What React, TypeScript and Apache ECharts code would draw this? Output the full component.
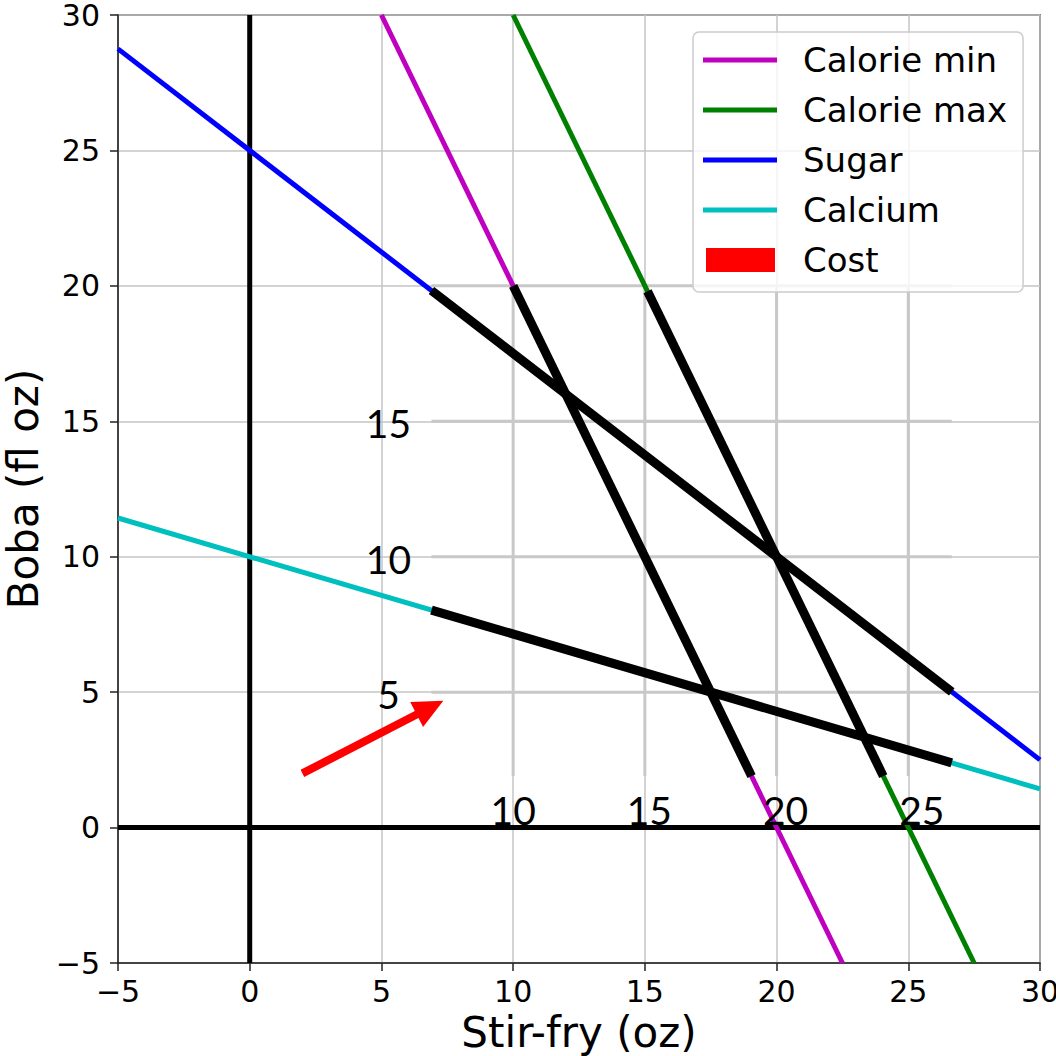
import React, { useEffect, useRef } from 'react';
import * as echarts from 'echarts';

// ---------- data ----------
const xAxisRange = [-5, 30];
const yAxisRange = [-5, 30];
const tickStep = 5;

const legendNames = ['Calorie min', 'Calorie max', 'Sugar', 'Calcium', 'Cost'];

// constraint lines (endpoints)
const calorieMinLine = [[5, 30], [22.5, -5]];
const calorieMaxLine = [[10, 30], [27.5, -5]];
const sugarLine = [[-5, 28.75], [30, 2.5]];
const calciumLine = [[-5, 11.43], [30, 1.43]];

// highlighted (black) parts of the constraints
const sugarEdge = [[6.9, 19.83], [26.65, 5.01]];
const calorieMinEdge = [[10, 20], [19.05, 1.9]];
const calorieMaxEdge = [[15.1, 19.8], [24.05, 1.9]];
const calciumEdge = [[6.9, 8.03], [26.65, 2.39]];

// cost direction arrow: tail x, tail y, tip x, tip y
const costArrow = [[2, 2, 7.35, 4.68]];

// thick zero axes
const zeroAxisVertical = [[0, -5], [0, 30]];
const zeroAxisHorizontal = [[-5, 0], [30, 0]];

// inner (overlay) grid
const innerBoxX = [6.9, 26.65];
const innerBoxY = [1.9, 20];
const innerGridX = [10, 15, 20, 25];
const innerGridY = [5, 10, 15, 20];
const innerXTickLabels = ['10', '15', '20', '25'];
const innerYTickValues = [15, 10, 5];
const innerYTickLabels = ['15', '10', '5'];

// ---------- styles ----------
const COLORS = {
  calMin: '#bf00bf',
  calMax: '#008000',
  sugar: '#0000ff',
  calcium: '#00bfbf',
  cost: '#ff0000',
};

const lineIcon = 'path://M0,0 M74,24 M0,9.5 L74,9.5 L74,14.5 L0,14.5 Z';
const rectIcon = 'path://M0,0 M74,24 M3,0 L72,0 L72,24 L3,24 Z';

function lineSeries(name: string, data: number[][], color: string, width: number, z = 2) {
  return {
    type: 'line',
    name,
    data,
    showSymbol: false,
    symbol: 'none',
    silent: true,
    z,
    itemStyle: { color },
    lineStyle: { color, width, cap: 'butt' },
  };
}

function segmentRender(stroke: string, width: number) {
  return (params: any, api: any) => {
    const a = api.coord([api.value(0), api.value(1)]);
    const b = api.coord([api.value(2), api.value(3)]);
    return {
      type: 'line',
      shape: { x1: a[0], y1: a[1], x2: b[0], y2: b[1] },
      style: { stroke, lineWidth: width },
    };
  };
}

function textStyle(text: string) {
  return {
    text,
    fill: '#000',
    font: '39px Lato',
    fontSize: 39,
    fontFamily: 'Lato',
    align: 'center',
    textAlign: 'center',
    verticalAlign: 'middle',
    textVerticalAlign: 'middle',
  };
}

export default function App() {
  const ref = useRef<HTMLDivElement>(null);

  useEffect(() => {
    if (!ref.current) return;
    const chart = echarts.init(ref.current, undefined, { renderer: 'svg' });

    const innerGridData = [
      ...innerGridX.map((v) => [v, innerBoxY[0], v, innerBoxY[1]]),
      ...innerGridY.map((v) => [innerBoxX[0], v, innerBoxX[1], v]),
    ];

    const minusFmt = (v: number) => String(v).replace('-', '\u2212');

    const axisCommon = {
      type: 'value',
      interval: tickStep,
      axisLine: { show: true, onZero: false, lineStyle: { color: '#222', width: 1.5 } },
      axisTick: { show: true, length: 8, inside: false, lineStyle: { color: '#222', width: 1.5 } },
      splitLine: { show: true, lineStyle: { color: '#c4c4c4', width: 1.5 } },
      nameTextStyle: { fontFamily: 'DejaVu Sans', fontSize: 42, color: '#000' },
      nameLocation: 'middle',
    };

    const option: any = {
      animation: false,
      backgroundColor: '#ffffff',
      grid: {
        left: 118,
        top: 15,
        width: 922,
        height: 948,
        show: true,
        borderColor: '#222',
        borderWidth: 1.5,
        containLabel: false,
        outerBoundsMode: 'none',
      },
      xAxis: {
        ...axisCommon,
        min: xAxisRange[0],
        max: xAxisRange[1],
        name: 'Stir-fry (oz)',
        nameGap: 48,
        axisLabel: {
          fontFamily: 'DejaVu Sans',
          fontSize: 30,
          color: '#000',
          margin: 13,
          formatter: minusFmt,
        },
      },
      yAxis: {
        ...axisCommon,
        min: yAxisRange[0],
        max: yAxisRange[1],
        name: 'Boba (fl oz)',
        nameGap: 70,
        axisLabel: {
          fontFamily: 'DejaVu Sans',
          fontSize: 30,
          color: '#000',
          margin: 18,
          formatter: minusFmt,
        },
      },
      legend: {
        show: true,
        orient: 'vertical',
        left: 693,
        top: 32,
        padding: [11, 16, 15, 10],
        itemWidth: 74,
        itemHeight: 24,
        itemGap: 16,
        selectedMode: false,
        backgroundColor: 'rgba(255,255,255,0.8)',
        borderColor: '#cccccc',
        borderWidth: 1.5,
        borderRadius: 6,
        textStyle: {
          fontFamily: 'DejaVu Sans',
          fontSize: 34,
          color: '#000',
          padding: [0, 0, 0, 21],
        },
        data: [
          { name: legendNames[0], icon: lineIcon, itemStyle: { color: COLORS.calMin } },
          { name: legendNames[1], icon: lineIcon, itemStyle: { color: COLORS.calMax } },
          { name: legendNames[2], icon: lineIcon, itemStyle: { color: COLORS.sugar } },
          { name: legendNames[3], icon: lineIcon, itemStyle: { color: COLORS.calcium } },
          { name: legendNames[4], icon: rectIcon, itemStyle: { color: COLORS.cost } },
        ],
      },
      series: [
        {
          type: 'custom',
          name: 'innerGrid',
          silent: true,
          z: 1,
          data: innerGridData,
          encode: { x: [0, 2], y: [1, 3] },
          renderItem: segmentRender('#c8c8c8', 3),
        },
        lineSeries('zeroV', zeroAxisVertical, '#000000', 5),
        lineSeries('zeroH', zeroAxisHorizontal, '#000000', 5),
        lineSeries(legendNames[0], calorieMinLine, COLORS.calMin, 5),
        lineSeries(legendNames[1], calorieMaxLine, COLORS.calMax, 5),
        lineSeries(legendNames[2], sugarLine, COLORS.sugar, 5),
        lineSeries(legendNames[3], calciumLine, COLORS.calcium, 5),
        lineSeries('edgeSugar', sugarEdge, '#000000', 9, 3),
        lineSeries('edgeCalMin', calorieMinEdge, '#000000', 9, 3),
        lineSeries('edgeCalMax', calorieMaxEdge, '#000000', 9, 3),
        lineSeries('edgeCalcium', calciumEdge, '#000000', 9, 3),
        {
          type: 'custom',
          name: legendNames[4],
          silent: true,
          z: 4,
          itemStyle: { color: COLORS.cost },
          data: costArrow,
          encode: { x: [0, 2], y: [1, 3] },
          renderItem: (params: any, api: any) => {
            const p0 = api.coord([api.value(0), api.value(1)]);
            const p1 = api.coord([api.value(2), api.value(3)]);
            const dx = p1[0] - p0[0];
            const dy = p1[1] - p0[1];
            const len = Math.hypot(dx, dy);
            const ux = dx / len;
            const uy = dy / len;
            const nx = -uy;
            const ny = ux;
            const headLen = 30;
            const headHalf = 14;
            const shaftHalf = 4;
            const bx = p1[0] - ux * headLen;
            const by = p1[1] - uy * headLen;
            const pts = [
              [p0[0] + nx * shaftHalf, p0[1] + ny * shaftHalf],
              [bx + nx * shaftHalf, by + ny * shaftHalf],
              [bx + nx * headHalf, by + ny * headHalf],
              [p1[0], p1[1]],
              [bx - nx * headHalf, by - ny * headHalf],
              [bx - nx * shaftHalf, by - ny * shaftHalf],
              [p0[0] - nx * shaftHalf, p0[1] - ny * shaftHalf],
            ];
            return { type: 'polygon', shape: { points: pts }, style: { fill: COLORS.cost } };
          },
        },
        {
          type: 'custom',
          name: 'innerXLabels',
          silent: true,
          z: 5,
          data: innerGridX.map((v, i) => [v, 0, i]),
          encode: { x: 0, y: 1 },
          renderItem: (params: any, api: any) => {
            const v = api.value(0);
            const p = api.coord([v, api.value(1)]);
            return {
              type: 'text',
              x: p[0] + (v - 10) * 0.9,
              y: p[1] - 18,
              style: textStyle(innerXTickLabels[api.value(2)]),
            };
          },
        },
        {
          type: 'custom',
          name: 'innerYLabels',
          silent: true,
          z: 5,
          data: innerYTickValues.map((v, i) => [innerBoxX[0], v, i]),
          encode: { x: 0, y: 1 },
          renderItem: (params: any, api: any) => {
            const p = api.coord([api.value(0), api.value(1)]);
            return {
              type: 'text',
              x: p[0] - 43,
              y: p[1] + 2,
              style: textStyle(innerYTickLabels[api.value(2)]),
            };
          },
        },
      ],
    };

    chart.setOption(option);
    return () => chart.dispose();
  }, []);

  return (
    <div
      ref={ref}
      style={{ position: 'fixed', left: 0, top: 0, width: 1056, height: 1056, background: '#fff' }}
    />
  );
}
